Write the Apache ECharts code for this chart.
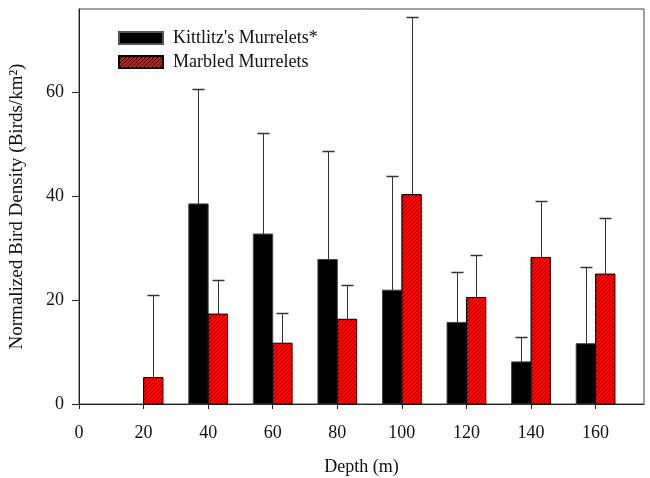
<!DOCTYPE html>
<html>
<head>
<meta charset="utf-8">
<script src="https://cdn.jsdelivr.net/npm/echarts@6/dist/echarts.min.js"></script>
<style>html,body{margin:0;padding:0;background:#fff}#c{width:650px;height:478px}</style>
</head>
<body>
<div id="c"></div>
<script>
var depths = [20, 40, 60, 80, 100, 120, 140, 160];
var kittlitz = [0, 38.5, 32.7, 27.8, 21.9, 15.7, 8.1, 11.6];
var kittlitzErr = [0, 22.1, 19.4, 20.9, 22.0, 9.7, 4.8, 14.8];
var marbled = [5.1, 17.3, 11.7, 16.3, 40.3, 20.5, 28.2, 25.0];
var marbledErr = [15.8, 6.5, 5.9, 6.6, 34.2, 8.2, 10.8, 10.8];
var xTicks = [0, 20, 40, 60, 80, 100, 120, 140, 160];
var yTicks = [0, 20, 40, 60];

var FONT = '"Liberation Serif", "Times New Roman", serif';

// hatch pattern
var pc = document.createElement('canvas');
pc.width = 4; pc.height = 4;
var g = pc.getContext('2d');
g.fillStyle = '#ff0000';
g.fillRect(0, 0, 4, 4);
g.strokeStyle = '#000';
g.lineWidth = 1;
g.beginPath();
g.moveTo(-1, 5); g.lineTo(5, -1);
g.moveTo(-1, 1); g.lineTo(1, -1);
g.moveTo(3, 5); g.lineTo(5, 3);
g.stroke();
var hatch = { image: pc, repeat: 'repeat' };

function rows(vals, errs) {
  return depths.map(function (d, i) { return [d, vals[i], errs[i]]; });
}

function barRenderer(o0, o1, fill, stroke) {
  return function (params, api) {
    var x = api.value(0), v = api.value(1);
    if (!v) return null;
    var a = api.coord([x + o0, v]);
    var b = api.coord([x + o1, 0]);
    return {
      type: 'rect',
      shape: { x: a[0], y: a[1], width: b[0] - a[0], height: b[1] - a[1] },
      style: { fill: fill, stroke: stroke, lineWidth: 1 }
    };
  };
}

function errRenderer(off) {
  return function (params, api) {
    var x = api.value(0) + off, v = api.value(1), e = api.value(2);
    if (!v || !e) return null;
    var p0 = api.coord([x, v]);
    var p1 = api.coord([x, v + e]);
    var cx = Math.round(p0[0]) + 0.5;
    var ty = Math.round(p1[1]) + 0.5;
    return {
      type: 'group',
      children: [
        { type: 'line', shape: { x1: cx, y1: p0[1], x2: cx, y2: ty }, style: { stroke: '#333', lineWidth: 1 } },
        { type: 'line', shape: { x1: cx - 6, y1: ty, x2: cx + 6, y2: ty }, style: { stroke: '#333', lineWidth: 1.5 } }
      ]
    };
  };
}

var chart = echarts.init(document.getElementById('c'), null, { renderer: 'canvas' });
chart.setOption({
  animation: false,
  backgroundColor: '#fff',
  grid: { left: 79, right: 6, top: 9, bottom: 74, show: true, borderColor: '#444', borderWidth: 1,
    containLabel: false, outerBoundsMode: 'none' },
  legend: {
    orient: 'vertical', left: 118, top: 29, itemWidth: 44, itemHeight: 12, itemGap: 6,
    padding: 0, icon: 'rect',
    textStyle: { fontFamily: FONT, fontSize: 18, color: '#111', padding: [0, 0, 0, 5] },
    data: ["Kittlitz's Murrelets*", 'Marbled Murrelets']
  },
  xAxis: {
    type: 'value', min: 0, max: 175, interval: 20,
    name: 'Depth (m)', nameLocation: 'middle', nameGap: 54,
    nameTextStyle: { fontFamily: FONT, fontSize: 18, color: '#111' },
    axisLine: { show: true, lineStyle: { color: '#222' } },
    axisTick: { show: true, length: 5, customValues: xTicks, lineStyle: { color: '#222' } },
    axisLabel: { fontFamily: FONT, fontSize: 18, color: '#111', margin: 20, customValues: xTicks,
      formatter: function (v) { return xTicks.indexOf(v) >= 0 ? String(v) : ''; } },
    splitLine: { show: false }
  },
  yAxis: {
    type: 'value', min: 0, max: 76, interval: 20,
    name: 'Normalized Bird Density (Birds/km²)', nameLocation: 'middle', nameGap: 52,
    nameTextStyle: { fontFamily: FONT, fontSize: 19, color: '#111' },
    axisLine: { show: true, lineStyle: { color: '#222' } },
    axisTick: { show: true, length: 7, customValues: yTicks, lineStyle: { color: '#222' } },
    axisLabel: { fontFamily: FONT, fontSize: 18, color: '#111', margin: 15, customValues: yTicks,
      formatter: function (v) { return yTicks.indexOf(v) >= 0 ? String(v) : ''; } },
    splitLine: { show: false }
  },
  series: [
    {
      name: "Kittlitz's Murrelets*", type: 'custom', renderItem: barRenderer(-6, 0, '#000', '#444'),
      itemStyle: { color: '#000', borderColor: '#555', borderWidth: 1 },
      encode: { x: 0, y: 1 }, data: rows(kittlitz, kittlitzErr), z: 2
    },
    {
      name: 'Marbled Murrelets', type: 'custom', renderItem: barRenderer(0, 6, hatch, '#000'),
      itemStyle: { color: hatch, borderColor: '#000', borderWidth: 1 },
      encode: { x: 0, y: 1 }, data: rows(marbled, marbledErr), z: 2
    },
    {
      type: 'custom', renderItem: errRenderer(-3), encode: { x: 0, y: 1 },
      data: rows(kittlitz, kittlitzErr), z: 1
    },
    {
      type: 'custom', renderItem: errRenderer(3), encode: { x: 0, y: 1 },
      data: rows(marbled, marbledErr), z: 1
    }
  ]
});
</script>
</body>
</html>
